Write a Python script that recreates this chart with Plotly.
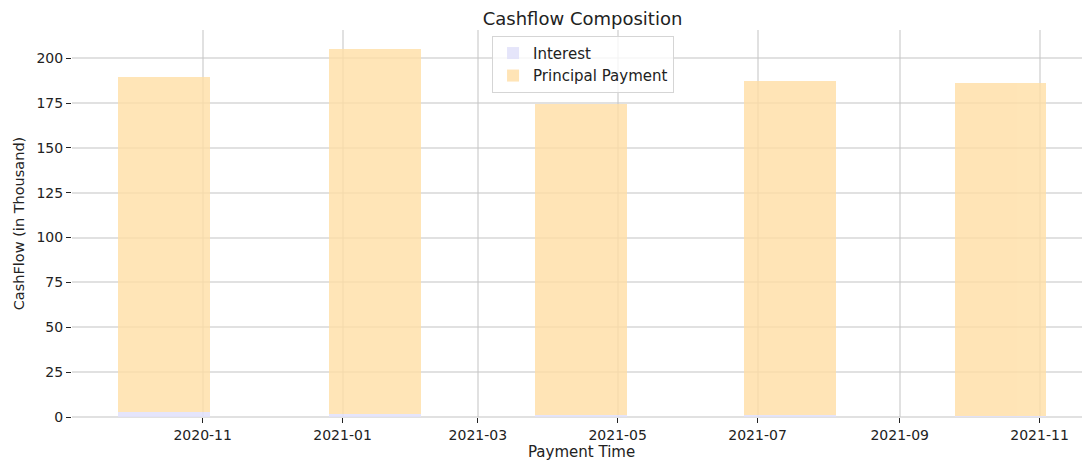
import plotly.graph_objects as go

payment_dates = ["2020-10-15", "2021-01-15", "2021-04-15", "2021-07-15", "2021-10-15"]
interest = [2.6, 1.9, 1.3, 0.9, 0.4]
principal = [186.8, 203.4, 173.2, 186.1, 185.7]

bar_width_ms = 40 * 24 * 3600 * 1000
font_family = "DejaVu Sans"

# the page body has an 8px default margin, so the figure is drawn 8px smaller
fig_w, fig_h = 1082, 457

fig = go.Figure()
fig.add_trace(go.Bar(
    x=payment_dates, y=interest, name="Interest", width=bar_width_ms,
    marker=dict(color="rgb(225,225,250)", line=dict(width=0)), opacity=0.85,
))
fig.add_trace(go.Bar(
    x=payment_dates, y=principal, name="Principal Payment", width=bar_width_ms,
    marker=dict(color="rgb(255,222,165)", line=dict(width=0)), opacity=0.8,
))

fig.update_layout(
    barmode="stack",
    width=fig_w, height=fig_h,
    margin=dict(l=64, r=0, t=22, b=48, autoexpand=False),
    paper_bgcolor="white", plot_bgcolor="white",
    font=dict(family=font_family, size=15, color="#222222"),
    title=dict(text="Cashflow Composition", x=0.531, xanchor="center",
               y=0.977, yanchor="middle", font=dict(size=18, color="#222222")),
    legend=dict(x=0.502, xanchor="center", y=0.985, yanchor="top",
                bgcolor="rgba(255,255,255,0.8)", bordercolor="#d5d5d5", borderwidth=1,
                font=dict(size=15), tracegroupgap=0, traceorder="normal"),
    showlegend=True,
    annotations=[dict(text="Payment Time", xref="paper", yref="paper",
                      x=0.5, y=-0.0904, xanchor="center", yanchor="middle",
                      showarrow=False, font=dict(size=15, color="#222222"))],
)
fig.update_xaxes(
    type="date", range=["2020-09-05", "2021-11-23"],
    tick0="2020-11-01", dtick="M2", tickformat="%Y-%m",
    showgrid=True, gridcolor="rgba(200,200,200,0.55)", gridwidth=1.5,
    ticks="outside", ticklen=5, tickcolor="#222222", tickwidth=1,
    ticklabelstandoff=0,
    showline=False, zeroline=False,
    tickfont=dict(size=14),
)
fig.update_yaxes(
    range=[0, 215.7], dtick=25, tick0=0,
    showgrid=True, gridcolor="rgba(200,200,200,0.55)", gridwidth=1.5,
    ticks="outside", ticklen=5, tickcolor="#222222", tickwidth=1,
    showline=False, zeroline=True, zerolinecolor="rgba(200,200,200,0.55)", zerolinewidth=1.5,
    title=dict(text="CashFlow (in Thousand)", standoff=8, font=dict(size=14.5)),
    tickfont=dict(size=14),
)

fig.write_html("out.html")
